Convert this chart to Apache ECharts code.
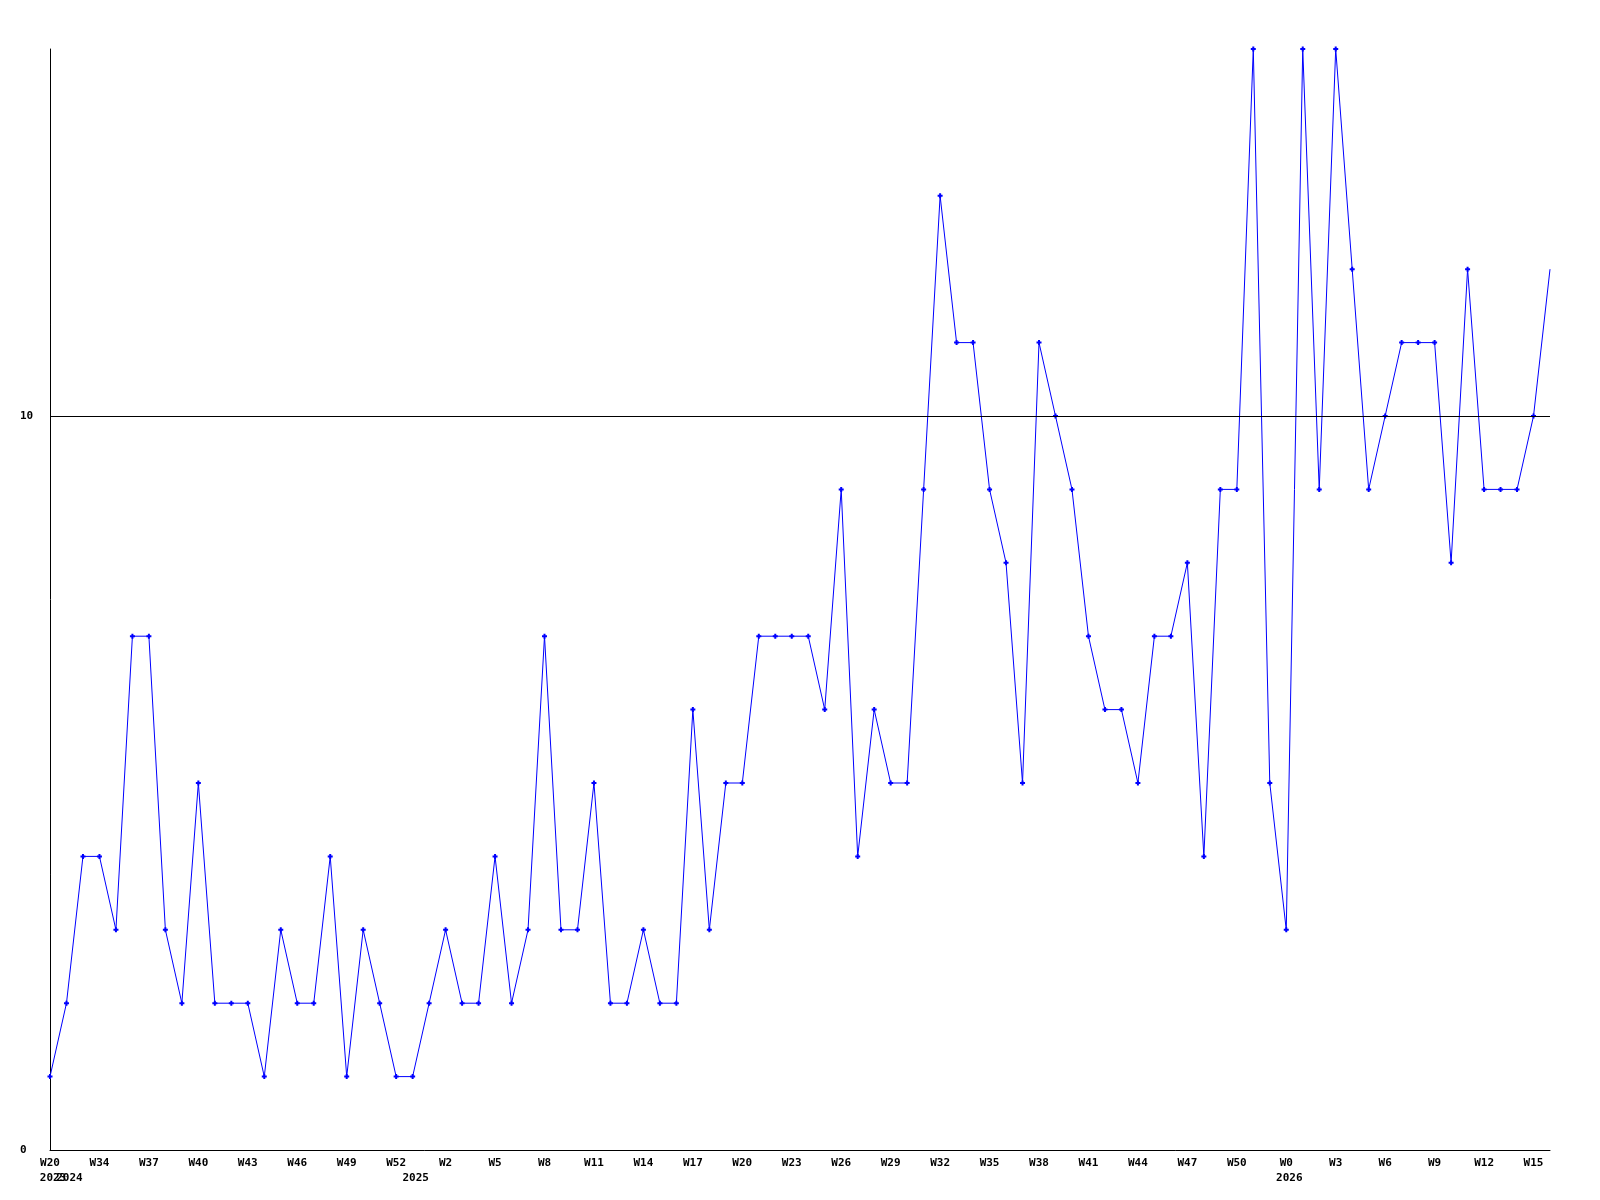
<!DOCTYPE html>
<html>
<head>
<meta charset="utf-8">
<script src="https://cdn.jsdelivr.net/npm/echarts@6/dist/echarts.min.js"></script>
<style>html,body{margin:0;padding:0;background:#fff}#c{width:1600px;height:1200px}</style>
</head>
<body>
<div id="c"></div>
<script>
const weeks = [
  "2023-W20",
  "2024-W32","2024-W33","2024-W34","2024-W35","2024-W36","2024-W37","2024-W38","2024-W39","2024-W40","2024-W41",
  "2024-W42","2024-W43","2024-W44","2024-W45","2024-W46","2024-W47","2024-W48","2024-W49","2024-W50","2024-W51","2024-W52",
  "2025-W0","2025-W1","2025-W2","2025-W3","2025-W4","2025-W5","2025-W6","2025-W7","2025-W8","2025-W9",
  "2025-W10","2025-W11","2025-W12","2025-W13","2025-W14","2025-W15","2025-W16","2025-W17","2025-W18","2025-W19",
  "2025-W20","2025-W21","2025-W22","2025-W23","2025-W24","2025-W25","2025-W26","2025-W27","2025-W28","2025-W29",
  "2025-W30","2025-W31","2025-W32","2025-W33","2025-W34","2025-W35","2025-W36","2025-W37","2025-W38","2025-W39",
  "2025-W40","2025-W41","2025-W42","2025-W43","2025-W44","2025-W45","2025-W46","2025-W47","2025-W48","2025-W49",
  "2025-W50","2025-W51","2025-W52",
  "2026-W0","2026-W1","2026-W2","2026-W3","2026-W4","2026-W5","2026-W6","2026-W7","2026-W8","2026-W9",
  "2026-W10","2026-W11","2026-W12","2026-W13","2026-W14","2026-W15","2026-W16"
];
const counts = [
  1,
  2,4,4,3,7,7,3,2,5,2,
  2,2,1,3,2,2,4,1,3,2,1,
  1,2,3,2,2,4,2,3,7,3,
  3,5,2,2,3,2,2,6,3,5,
  5,7,7,7,7,6,9,4,6,5,
  5,9,13,11,11,9,8,5,11,10,
  9,7,6,6,5,7,7,8,4,9,
  9,15,5,
  3,15,9,15,12,9,10,11,11,11,
  8,12,9,9,9,10,12
];
const yTicks = [0, 10];
const refLine = 10;

const weekOf = s => s.split("-")[1];
const yearOf = s => s.split("-")[0];
const isYearStart = i => i === 0 || yearOf(weeks[i]) !== yearOf(weeks[i - 1]);

const plus = 'path://M1.5,0L3.5,0L3.5,1.5L5,1.5L5,3.5L3.5,3.5L3.5,5L1.5,5L1.5,3.5L0,3.5L0,1.5L1.5,1.5Z';
const chart = echarts.init(document.getElementById('c'), null, {renderer: 'canvas'});
const font = '"DejaVu Sans Mono", monospace';
const labelBase = {
  margin: 6,
  color: '#000',
  fontFamily: font,
  fontWeight: 'bold',
  fontSize: 11,
  lineHeight: 15,
  hideOverlap: false,
  rich: {
    y: {fontFamily: font, fontWeight: 'bold', fontSize: 11, lineHeight: 15, color: '#000', padding: [0, 0, 0, 6]}
  }
};
chart.setOption({
  animation: false,
  backgroundColor: '#ffffff',
  grid: {left: 50, right: 50, top: 49, bottom: 50, containLabel: false},
  xAxis: [{
    type: 'category',
    position: 'bottom',
    data: weeks,
    boundaryGap: false,
    axisLine: {show: true, lineStyle: {color: '#000', width: 1}},
    axisTick: {show: false},
    splitLine: {show: false},
    axisLabel: Object.assign({}, labelBase, {
      interval: (i) => i % 3 === 0,
      formatter: (v, i) => i === 0 ? weekOf(v) + '\n{y|' + yearOf(v) + '}' : weekOf(v)
    })
  }, {
    type: 'category',
    position: 'bottom',
    offset: 0,
    data: weeks,
    boundaryGap: false,
    axisLine: {show: false},
    axisTick: {show: false},
    splitLine: {show: false},
    axisLabel: Object.assign({}, labelBase, {
      interval: (i) => i > 0 && isYearStart(i),
      formatter: (v) => ' \n{y|' + yearOf(v) + '}'
    })
  }],
  yAxis: {
    type: 'value',
    min: 0,
    max: 15,
    interval: 10,
    axisLine: {show: true, lineStyle: {color: '#000', width: 1}},
    axisTick: {show: false},
    splitLine: {show: false},
    axisLabel: {
      showMinLabel: true,
      showMaxLabel: false,
      align: 'left',
      margin: 30,
      color: '#000',
      fontFamily: font,
      fontWeight: 'bold',
      fontSize: 11,
      formatter: v => (yTicks.indexOf(v) >= 0 ? String(v) : '')
    }
  },
  series: [{
    type: 'line',
    xAxisIndex: 0,
    data: counts,
    symbol: (val, p) => p.dataIndex === counts.length - 1 ? 'none' : plus,
    symbolSize: 5,
    showAllSymbol: true,
    clip: false,
    lineStyle: {color: '#0000ff', width: 1},
    itemStyle: {color: '#0000ff'},
    markLine: {
      silent: true,
      symbol: 'none',
      label: {show: false},
      lineStyle: {color: '#000', width: 1, type: 'solid'},
      data: [{yAxis: refLine}]
    }
  }]
});
</script>
</body>
</html>
